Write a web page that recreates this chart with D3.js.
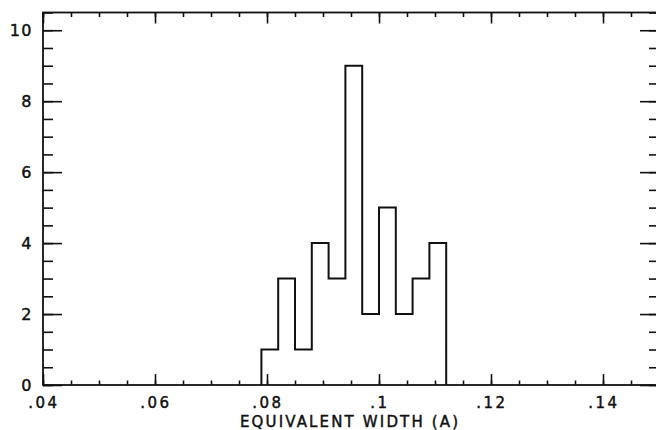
<!DOCTYPE html>
<html>
<head>
<meta charset="utf-8">
<script src="https://cdn.jsdelivr.net/npm/d3@7"></script>
<style>
  html, body { margin: 0; padding: 0; background: #fff; }
  svg { display: block; }
  text { font-family: "DejaVu Sans", "Liberation Sans", sans-serif; fill: #111; stroke: #111; stroke-width: 0.45; }
</style>
</head>
<body>
<svg id="chart" width="656" height="430"></svg>
<script>
// Histogram of equivalent widths, bins of 0.003 A
const binEdges = [0.079, 0.082, 0.085, 0.088, 0.091, 0.094, 0.097, 0.100, 0.103, 0.106, 0.109, 0.112];
const counts   = [1, 3, 1, 4, 3, 9, 2, 5, 2, 3, 4];

const xMajorTicks  = [0.04, 0.06, 0.08, 0.10, 0.12, 0.14];
const xTickLabels  = [".04", ".06", ".08", ".1", ".12", ".14"];
const yMajorTicks  = [0, 2, 4, 6, 8, 10];
const yTickLabels  = ["0", "2", "4", "6", "8", "10"];
const xTitle = "EQUIVALENT WIDTH (A)";

const svg = d3.select("#chart");
const ink = "#111";

const x = d3.scaleLinear().domain([0.04, 0.15]).range([43, 659]);
const y = d3.scaleLinear().domain([0, 10.5]).range([385, 12.5]);

const [x0, x1] = x.range();
const [yb, yt] = y.range();

// minor tick positions
const xMinor = d3.range(0, 23).map(i => +(0.04 + i * 0.005).toFixed(3));
const yMinor = d3.range(0, 22).map(i => i * 0.5);

function styleAxis(g) {
  g.select(".domain").remove();
  g.selectAll("line").attr("stroke", ink).attr("stroke-width", 1.6);
  g.selectAll("text").remove();
}

// bottom ticks (pointing up)
svg.append("g").attr("transform", `translate(0,${yb})`)
  .call(d3.axisTop(x).tickValues(xMinor).tickSize(4.5).tickFormat(""))
  .call(styleAxis);
svg.append("g").attr("transform", `translate(0,${yb})`)
  .call(d3.axisTop(x).tickValues(xMajorTicks).tickSize(11).tickFormat(""))
  .call(styleAxis);
// top ticks (pointing down)
svg.append("g").attr("transform", `translate(0,${yt})`)
  .call(d3.axisBottom(x).tickValues(xMinor).tickSize(4.5).tickFormat(""))
  .call(styleAxis);
svg.append("g").attr("transform", `translate(0,${yt})`)
  .call(d3.axisBottom(x).tickValues(xMajorTicks).tickSize(11).tickFormat(""))
  .call(styleAxis);
// left ticks (pointing right)
svg.append("g").attr("transform", `translate(${x0},0)`)
  .call(d3.axisRight(y).tickValues(yMinor).tickSize(10).tickFormat(""))
  .call(styleAxis);
svg.append("g").attr("transform", `translate(${x0},0)`)
  .call(d3.axisRight(y).tickValues(yMajorTicks).tickSize(19).tickFormat(""))
  .call(styleAxis);
// right ticks (pointing left)
svg.append("g").attr("transform", `translate(${x1},0)`)
  .call(d3.axisLeft(y).tickValues(yMinor).tickSize(10).tickFormat(""))
  .call(styleAxis);
svg.append("g").attr("transform", `translate(${x1},0)`)
  .call(d3.axisLeft(y).tickValues(yMajorTicks).tickSize(19).tickFormat(""))
  .call(styleAxis);

// frame
svg.append("rect")
  .attr("x", x0).attr("y", yt)
  .attr("width", x1 - x0).attr("height", yb - yt)
  .attr("fill", "none").attr("stroke", ink).attr("stroke-width", 1.8);

// step outline of the histogram
const pts = [[binEdges[0], 0]];
counts.forEach((c, i) => {
  pts.push([binEdges[i], c]);
  pts.push([binEdges[i + 1], c]);
});
pts.push([binEdges[binEdges.length - 1], 0]);

svg.append("path")
  .attr("d", d3.line().x(d => x(d[0])).y(d => y(d[1]))(pts))
  .attr("fill", "none")
  .attr("stroke", ink)
  .attr("stroke-width", 2)
  .attr("stroke-linejoin", "miter");

// x tick labels
svg.append("g").selectAll("text")
  .data(xMajorTicks)
  .join("text")
  .attr("x", d => x(d) + 1)
  .attr("y", 407.5)
  .attr("text-anchor", "middle")
  .attr("font-size", 15)
  .attr("letter-spacing", 2.5)
  .text((d, i) => xTickLabels[i]);

// y tick labels
svg.append("g").selectAll("text")
  .data(yMajorTicks)
  .join("text")
  .attr("x", 33)
  .attr("y", d => y(d) + 6)
  .attr("text-anchor", "end")
  .attr("font-size", 16)
  .attr("letter-spacing", 1.5)
  .text((d, i) => yTickLabels[i]);

// x axis title
svg.append("text")
  .attr("x", 240)
  .attr("y", 427)
  .attr("font-size", 15)
  .attr("textLength", 218)
  .attr("lengthAdjust", "spacing")
  .text(xTitle);
</script>
</body>
</html>
